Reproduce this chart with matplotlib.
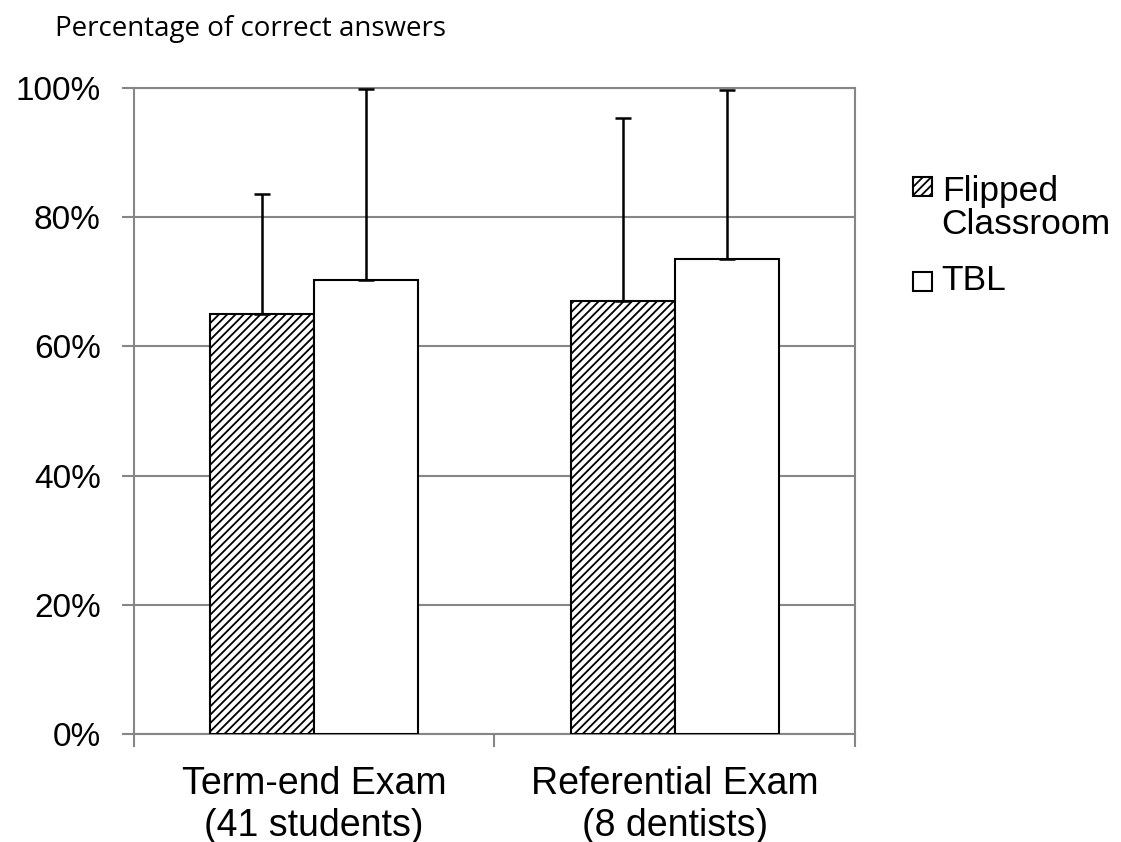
import numpy as np
import matplotlib
matplotlib.use('Agg')
import matplotlib.pyplot as plt
from matplotlib.patches import Rectangle
from matplotlib.legend_handler import HandlerPatch

plt.rcParams['font.family'] = ['Liberation Sans', 'DejaVu Sans']
plt.rcParams['hatch.linewidth'] = 1.3

# datos
categorias = ['Term-end Exam\n(41 students)', 'Referential Exam\n(8 dentists)']
series = ['Flipped\nClassroom', 'TBL']
flipped = [65.0, 67.1]
flipped_err = [18.6, 28.2]
tbl = [70.2, 73.6]
tbl_err = [29.6, 26.1]
y_ticks = [0, 20, 40, 60, 80, 100]

gris = '#868686'
fs_leg = 25.5
interlinea = 1.0

fig = plt.figure(figsize=(11.21, 8.42), dpi=100)
ax = fig.add_axes([0.1195, 0.1283, 0.6432, 0.7672])

x = np.arange(len(categorias))
w = 0.288

b1 = ax.bar(x - w/2, flipped, w, color='white', edgecolor='black', linewidth=1.5,
            hatch='////', label=series[0], zorder=3)
b2 = ax.bar(x + w/2, tbl, w, color='white', edgecolor='black', linewidth=1.5,
            label=series[1], zorder=3)

# barras de error solo hacia arriba
ax.errorbar(x - w/2, flipped, yerr=[np.zeros(2), flipped_err], fmt='none',
            ecolor='black', elinewidth=1.8, capsize=6, capthick=1.8, zorder=4)
ax.errorbar(x + w/2, tbl, yerr=[np.zeros(2), tbl_err], fmt='none',
            ecolor='black', elinewidth=1.8, capsize=6, capthick=1.8, zorder=4)

ax.set_xlim(-0.5, 1.5)
ax.set_ylim(0, 100)
ax.set_yticks(y_ticks)
ax.set_yticklabels([f'{v}%' for v in y_ticks], fontsize=24)
ax.yaxis.grid(True, color=gris, linewidth=1.5, zorder=0)

# marcas del eje x en los limites de las categorias
ax.set_xticks([-0.5, 0.5, 1.5])
ax.set_xticklabels([])
ax.set_xticks(x, minor=True)
ax.set_xticklabels(categorias, minor=True, fontsize=27)
ax.tick_params(axis='x', which='major', length=9, width=1.5, color=gris)
ax.tick_params(axis='x', which='minor', length=0, pad=23)
ax.tick_params(axis='y', length=9, width=1.5, color=gris, pad=15)

for s in ['left', 'bottom', 'right', 'top']:
    ax.spines[s].set_color(gris)
    ax.spines[s].set_linewidth(1.5)

fig.text(0.049, 0.966, 'Percentage of correct answers', fontsize=20,
         family=['Open Sans', 'DejaVu Sans'], va='center')


# cuadros cuadrados; el rayado va a la altura de la primera linea
def cuadro(desplazar):
    def f(legend, orig_handle, xdescent, ydescent, width, height, fontsize):
        lado = min(width, height)
        return Rectangle((-xdescent, -ydescent + desplazar * fontsize), lado, lado)
    return f


leg = fig.legend(handles=[b1[0], b2[0]], labels=series, loc='upper left',
                 bbox_to_anchor=(0.786, 0.83), frameon=False,
                 fontsize=fs_leg, handlelength=0.53, handleheight=0.53,
                 handletextpad=0.28, labelspacing=0.65,
                 handler_map={b1[0]: HandlerPatch(patch_func=cuadro(0.66)),
                              b2[0]: HandlerPatch(patch_func=cuadro(-0.09))})
for t in leg.get_texts():
    t.set_linespacing(interlinea)

plt.savefig('out.png', dpi=100)
